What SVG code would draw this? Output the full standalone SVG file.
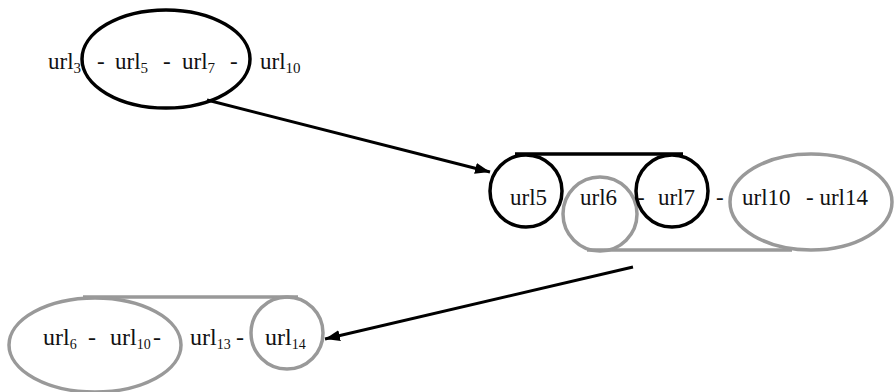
<svg xmlns="http://www.w3.org/2000/svg" width="895" height="392" viewBox="0 0 895 392">
<defs>
<style>
text{font-family:'Liberation Serif','Times New Roman',serif;fill:#111;}
.t1{font-size:23px;}
.t2{font-size:23px;}
.t3{font-size:24px;}
.s1{font-size:15px;}
.s3{font-size:14px;}
.blk{fill:none;stroke:#000;stroke-width:3.5;}
.gry{fill:none;stroke:#999;stroke-width:3.5;}
.conn{stroke:#000;stroke-width:3;fill:none;}
</style>
<marker id="arr" markerUnits="userSpaceOnUse" markerWidth="16" markerHeight="12" refX="15" refY="5.5" orient="auto">
<path d="M0,0 L15,5.5 L0,11 z" fill="#000"/>
</marker>
</defs>
<rect width="895" height="392" fill="#fff"/>

<g id="node-top">
<ellipse class="blk" cx="166" cy="59" rx="84" ry="49"/>
<text class="t1" x="48" y="69">url<tspan class="s1" dy="4">3</tspan></text>
<text class="t1" x="97" y="69">-</text>
<text class="t1" x="115" y="69">url<tspan class="s1" dy="4">5</tspan></text>
<text class="t1" x="163" y="69">-</text>
<text class="t1" x="182" y="69">url<tspan class="s1" dy="4">7</tspan></text>
<text class="t1" x="230" y="69">-</text>
<text class="t1" x="260" y="69">url<tspan class="s1" dy="4">10</tspan></text>
</g>

<g id="node-middle">
<line class="blk" x1="515" y1="154" x2="683" y2="154"/>
<line class="gry" x1="587" y1="250" x2="792" y2="250"/>
<circle class="blk" cx="526" cy="191" r="36"/>
<circle class="gry" cx="600" cy="214" r="37"/>
<circle class="blk" cx="672" cy="191" r="36"/>
<ellipse class="gry" cx="811" cy="202" rx="81" ry="48"/>
<text class="t2" x="510" y="205">url5</text>
<text class="t2" x="580" y="205">url6</text>
<text class="t2" x="637" y="205">-</text>
<text class="t2" x="658" y="205">url7</text>
<text class="t2" x="716" y="205">-</text>
<text class="t2" x="742" y="205">url10</text>
<text class="t2" x="806" y="205">- url14</text>
</g>

<g id="node-bottom">
<line class="gry" x1="83" y1="297" x2="298" y2="297"/>
<ellipse class="gry" cx="95" cy="345" rx="86" ry="47"/>
<circle class="gry" cx="287" cy="333" r="36"/>
<text class="t3" x="43" y="345">url<tspan class="s3" dy="4">6</tspan></text>
<text class="t3" x="88" y="345">-</text>
<text class="t3" x="110" y="345">url<tspan class="s3" dy="4">10</tspan></text>
<text class="t3" x="153" y="345">-</text>
<text class="t3" x="190" y="345">url<tspan class="s3" dy="4">13</tspan></text>
<text class="t3" x="236" y="345">-</text>
<text class="t3" x="265" y="345">url<tspan class="s3" dy="4">14</tspan></text>
</g>

<g id="connectors">
<line class="conn" x1="207" y1="100" x2="490" y2="172" marker-end="url(#arr)"/>
<line class="conn" x1="633" y1="267" x2="325" y2="339" marker-end="url(#arr)"/>
</g>
</svg>
